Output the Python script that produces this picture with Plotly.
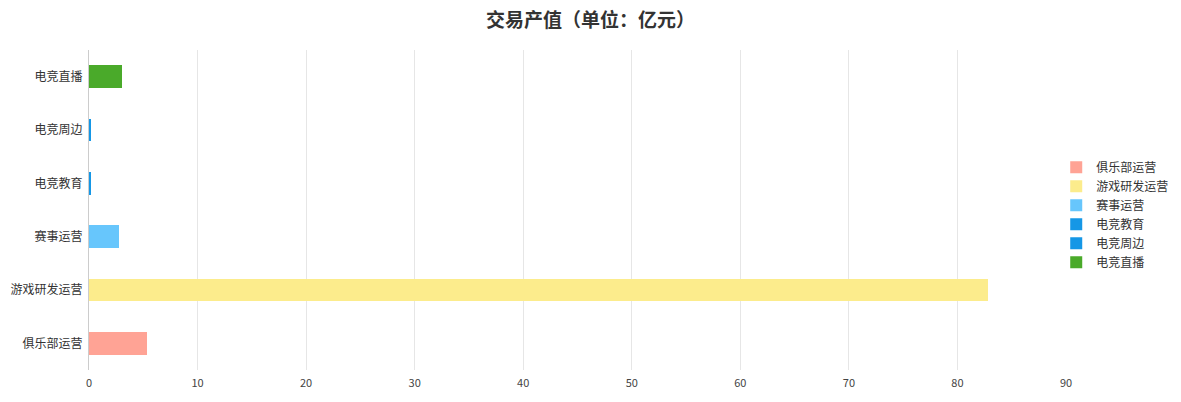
import plotly.graph_objects as go

# categories (bottom to top on the y axis) and their values
categories = ["俱乐部运营", "游戏研发运营", "赛事运营", "电竞教育", "电竞周边", "电竞直播"]
values = [5.3, 82.8, 2.8, 0.1, 0.1, 3.0]
colors = ["#ffa395", "#fcec8c", "#67c6fc", "#1597e6", "#1597e6", "#4aaa2a"]
x_ticks = [0, 10, 20, 30, 40, 50, 60, 70, 80, 90]

font_family = "Noto Sans CJK SC, Microsoft YaHei, sans-serif"

fig = go.Figure()
for name, value, color in zip(categories, values, colors):
    # one trace per category so each gets its own legend entry
    fig.add_trace(go.Bar(
        y=[name], x=[value], name=name, orientation="h",
        marker=dict(color=color, line=dict(width=0)),
        width=0.42,
    ))

fig.update_layout(
    width=1181, height=402,
    barmode="stack",
    paper_bgcolor="white", plot_bgcolor="white",
    margin=dict(l=89, r=115, t=50, b=32, autoexpand=False),
    font=dict(family=font_family, size=12, color="#333"),
    title=dict(
        text="<b>交易产值（单位：亿元）</b>",
        x=0.5, xanchor="center", y=0.95, yanchor="middle",
        font=dict(size=19, color="#333", family=font_family),
    ),
    legend=dict(
        x=0.99, xanchor="left", y=0.485, yanchor="middle",
        traceorder="normal",
        font=dict(size=12, color="#333"),
        itemwidth=30, tracegroupgap=0,
    ),
)

fig.update_xaxes(
    range=[0, 90], tickvals=x_ticks, showgrid=True, gridcolor="#e6e6e6",
    zeroline=False, showline=False, ticks="", automargin=False,
    ticklabelstandoff=5, tickfont=dict(size=11, color="#444"),
)
fig.update_yaxes(
    categoryorder="array", categoryarray=categories,
    showline=True, linecolor="#ccc", linewidth=1, showgrid=False,
    ticks="", ticklabelstandoff=3, automargin=False,
    tickfont=dict(size=12, color="#333"),
)

# drop the browser's default body margin so the figure sits at the page corner
fig.write_html("out.html", config={"displayModeBar": False},
               post_script="document.body.style.margin='0px';")
